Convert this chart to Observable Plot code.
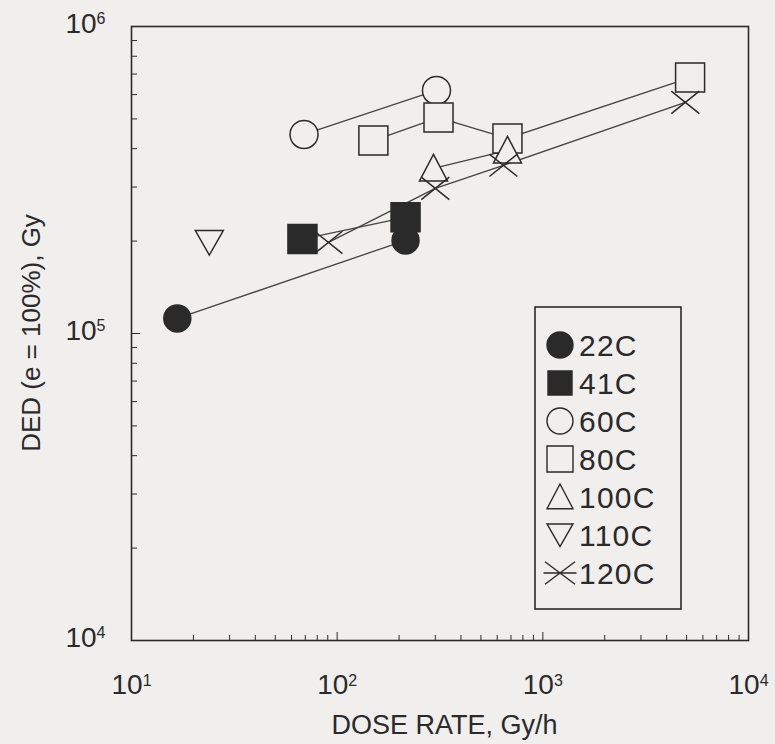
<!DOCTYPE html>
<html>
<head>
<meta charset="utf-8">
<script src="https://cdn.jsdelivr.net/npm/d3@7"></script>
<script src="https://cdn.jsdelivr.net/npm/@observablehq/plot@0.6"></script>
<style>
  body { margin: 0; background: #f0efed; }
  #chart { width: 775px; height: 744px; }
  svg { font-family: "Liberation Sans", Arial, sans-serif; }
</style>
</head>
<body>
<div id="chart"></div>
<script>
// ---- data ----
const temps = ["22C", "41C", "60C", "80C", "100C", "110C", "120C"];
const doseRates = [
  [16.7, 215],
  [67.8, 215],
  [69, 304],
  [150, 311, 673, 5200],
  [294, 673],
  [23.9],
  [90.7, 300, 643, 4930]
];
const deds = [
  [1.12e5, 2.01e5],
  [2.03e5, 2.39e5],
  [4.45e5, 6.19e5],
  [4.25e5, 5.05e5, 4.32e5, 6.82e5],
  [3.45e5, 3.95e5],
  [1.98e5],
  [1.98e5, 2.97e5, 3.53e5, 5.66e5]
];
const xTicks = [10, 100, 1000, 10000];
const yTicks = [1e4, 1e5, 1e6];
const xLabel = "DOSE RATE, Gy/h";
const yLabel = "DED (e = 100%), Gy";

// ---- styling ----
const bg = "#f0efed";
const ink = "#2a2a2a";

function rad(size) { return Math.sqrt(size / Math.PI); }
const symCircle = { draw(c, s) { const r = rad(s); c.moveTo(r, 0); c.arc(0, 0, r, 0, 2 * Math.PI); } };
const symSquare = { draw(c, s) { const r = rad(s); c.rect(-r, -r, 2 * r, 2 * r); } };
const symTriUp = { draw(c, s) { const r = rad(s); c.moveTo(0, -r); c.lineTo(r, 0.9 * r); c.lineTo(-r, 0.9 * r); c.closePath(); } };
const symTriDown = { draw(c, s) { const r = rad(s); c.moveTo(-r, -0.85 * r); c.lineTo(r, -0.85 * r); c.lineTo(0, 0.9 * r); c.closePath(); } };
const symTimes = { draw(c, s) { const r = rad(s); c.moveTo(-r, -0.8 * r); c.lineTo(r, 0.8 * r); c.moveTo(r, -0.8 * r); c.lineTo(-r, 0.8 * r); } };
const symTimesLegend = { draw(c, s) { const r = rad(s); c.moveTo(-r, -0.75 * r); c.lineTo(r, 0.75 * r); c.moveTo(r, -0.75 * r); c.lineTo(-r, 0.75 * r); c.moveTo(-r * 1.1, 0); c.lineTo(r * 1.1, 0); } };

const symbols = [symCircle, symSquare, symCircle, symSquare, symTriUp, symTriDown, symTimes];
const legendSymbols = [symCircle, symSquare, symCircle, symSquare, symTriUp, symTriDown, symTimesLegend];
const fills = [ink, ink, bg, bg, bg, bg, "none"];
const radii = [13.5, 14.5, 14, 14.5, 14, 14, 14];
const legendRadii = [13, 12, 13, 13, 13, 13, 15];

const rows = temps.flatMap((t, i) => doseRates[i].map((x, j) => ({ series: t, x, y: deds[i][j] })));

// minor tick positions per decade
function minor(lo, hi) {
  const out = [];
  for (let d = lo; d < hi; d *= 10) for (let k = 2; k <= 9; k++) out.push(d * k);
  return out;
}
const sup = (d) => String(Math.round(Math.log10(d)));

const plot = Plot.plot({
  width: 775,
  height: 744,
  marginLeft: 131,
  marginRight: 27,
  marginTop: 26,
  marginBottom: 104,
  style: { background: "transparent", fontFamily: "Liberation Sans, Arial, sans-serif", fontSize: "26px", color: ink },
  x: { type: "log", domain: [10, 1e4] },
  y: { type: "log", domain: [1e4, 1e6] },
  marks: [
    Plot.axisX(minor(10, 1e4), { tickSize: -5, tickFormat: () => "", label: null, stroke: ink }),
    Plot.axisX([100, 1000], { tickSize: -8, tickFormat: () => "", label: null, stroke: ink }),
    Plot.axisY(minor(1e4, 1e6), { tickSize: -6, tickFormat: () => "", label: null, stroke: ink }),
    Plot.axisY([1e5], { tickSize: -9, tickFormat: () => "", label: null, stroke: ink }),
    Plot.axisX(xTicks, { tickSize: 0, tickPadding: 34, tickFormat: sup, label: null, fill: ink }),
    Plot.axisY(yTicks, { tickSize: 0, tickPadding: 26, tickFormat: sup, label: null, fill: ink }),
    Plot.frame({ stroke: ink, strokeWidth: 1.6 }),
    Plot.line(rows, { x: "x", y: "y", z: "series", stroke: "#444", strokeWidth: 1.3 }),
    ...temps.map((t, i) => Plot.dot(rows.filter(d => d.series === t), {
      x: "x", y: "y", symbol: symbols[i], r: radii[i],
      fill: fills[i], stroke: ink, strokeWidth: 1.5
    }))
  ]
});

document.getElementById("chart").appendChild(plot);

const svg = d3.select(plot);
// superscript exponents on tick labels
svg.selectAll('g[aria-label="x-axis tick label"] text, g[aria-label="y-axis tick label"] text').each(function () {
  const e = this.textContent.trim();
  if (!e) return;
  const t = d3.select(this);
  t.text("");
  t.style("font-size", "28px");
  t.append("tspan").text("10");
  t.append("tspan").attr("dy", "-0.55em").style("font-size", "16px").text(e);
});
svg.selectAll('g[aria-label="y-axis tick label"] text').attr("dy", "-0.1em");

// axis titles
const xs = plot.scale("x").range, ys = plot.scale("y").range;
svg.append("text")
  .attr("x", (xs[0] + xs[1]) / 2 + 5).attr("y", 734)
  .attr("text-anchor", "middle").style("font-size", "27px").attr("fill", ink)
  .text(xLabel);
svg.append("text")
  .attr("transform", `translate(40,${(ys[0] + ys[1]) / 2}) rotate(-90)`)
  .attr("text-anchor", "middle").style("font-size", "26px").attr("fill", ink)
  .text(yLabel);

// legend
const lg = svg.append("g").attr("text-anchor", "start");
lg.append("rect").attr("x", 535).attr("y", 307).attr("width", 146).attr("height", 302)
  .attr("fill", "none").attr("stroke", ink).attr("stroke-width", 1.6);
temps.forEach((t, i) => {
  const cy = 345 + i * 38;
  lg.append("path")
    .attr("transform", `translate(560,${cy})`)
    .attr("d", d3.symbol().type(legendSymbols[i]).size(Math.PI * legendRadii[i] ** 2)())
    .attr("fill", fills[i] === bg ? "none" : fills[i])
    .attr("stroke", ink).attr("stroke-width", 1.4);
  lg.append("text").attr("x", 579).attr("y", cy).attr("dy", "0.36em")
    .attr("text-anchor", "start")
    .style("font-size", "30px").attr("letter-spacing", 1.2).attr("fill", ink).text(t);
});
</script>
</body>
</html>
